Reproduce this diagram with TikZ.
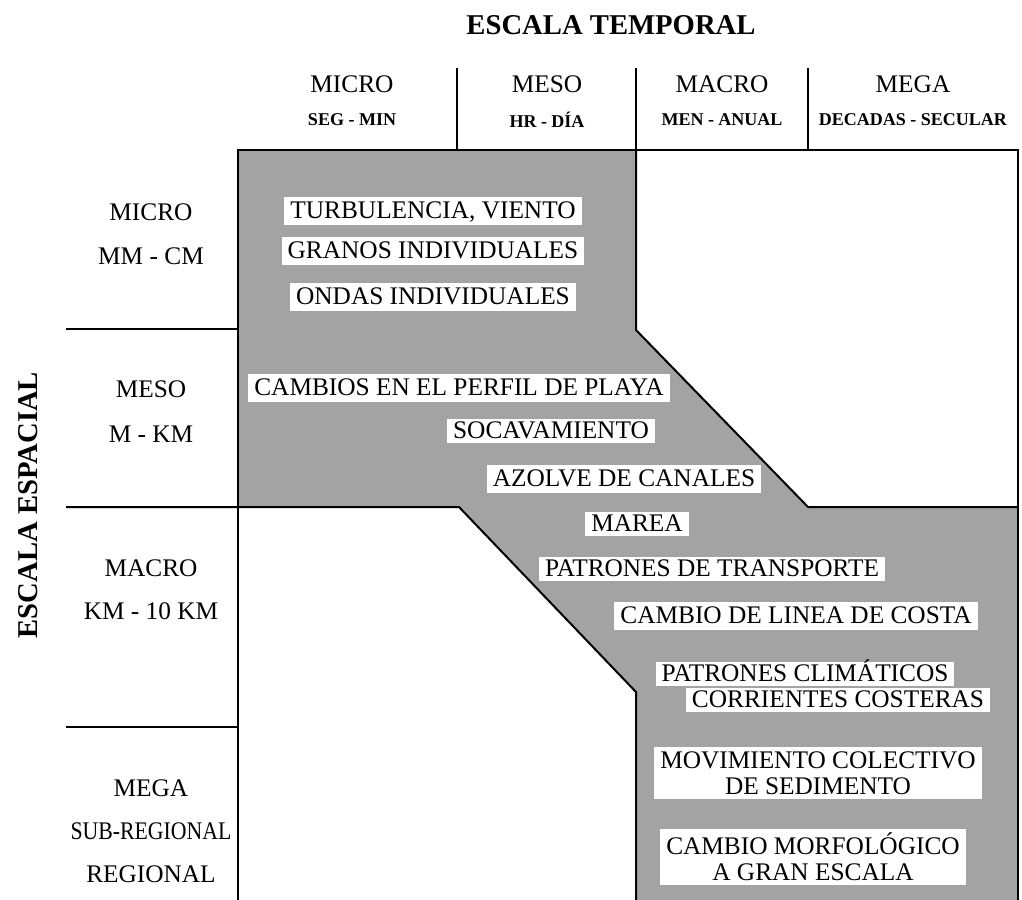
\documentclass[tikz,border=0pt]{standalone}
\usepackage{fontspec}
\setmainfont{Liberation Serif}
\definecolor{bandgray}{gray}{0.64}
\begin{document}
\begin{tikzpicture}[x=0.75pt,y=-0.75pt,
  big/.style={font=\fontsize{19}{22}\selectfont},
  small/.style={font=\bfseries\fontsize{13.5}{16}\selectfont},
  title/.style={font=\bfseries\fontsize{21.5}{24}\selectfont},
  tag/.style={big, fill=white, inner xsep=4.5pt, inner ysep=3.5pt, text height=12.5pt, text depth=1.5pt},
  tagthin/.style={tag, inner ysep=2.2pt},
  tagtwo/.style={font=\fontsize{19}{19.5}\selectfont, fill=white, align=center, inner xsep=4.5pt, inner ysep=3pt},
  frame/.style={line width=1.5pt}]
\useasboundingbox (0,0) rectangle (1022,900);
% shaded band
\fill[bandgray] (238,150) -- (636,150) -- (636,330) -- (808,507) -- (1018,507) -- (1018,900)
  -- (636,900) -- (636,692) -- (459,507) -- (238,507) -- cycle;
% frame lines
\draw[frame] (238,900) -- (238,150) -- (1019,150);
\draw[frame] (1018,150) -- (1018,900);
\draw[frame] (636,150) -- (636,330) -- (808,507) -- (1018,507);
\draw[frame] (66,507) -- (459,507) -- (636,692) -- (636,900);
\draw[frame] (66,329) -- (238,329);
\draw[frame] (66,727) -- (238,727);
\draw[frame] (457,68) -- (457,150);
\draw[frame] (636,68) -- (636,150);
\draw[frame] (808,68) -- (808,150);
% titles
\node[title] (tt) at (611,25) {ESCALA TEMPORAL};
\node[title, rotate=90] (te) at (28,505) {ESCALA ESPACIAL};
% column headers
\node[big] (c1) at (352,84) {MICRO};
\node[small] (c1s) at (352,120) {SEG - MIN};
\node[big] (c2) at (547,84) {MESO};
\node[small] (c2s) at (547,120) {HR - DÍA};
\node[big] (c3) at (722,84) {MACRO};
\node[small] (c3s) at (722,120) {MEN - ANUAL};
\node[big] (c4) at (913,84) {MEGA};
\node[small] (c4s) at (913,120) {DECADAS - SECULAR};
% row headers
\node[big] (r1) at (151,212) {MICRO};
\node[big] (r1s) at (151,256) {MM - CM};
\node[big] (r2) at (151,389) {MESO};
\node[big] (r2s) at (151,434) {M - KM};
\node[big] (r3) at (151,568) {MACRO};
\node[big] (r3s) at (151,611) {KM - 10 KM};
\node[big] (r4) at (151,788) {MEGA};
\node[big] (r4s) at (151,831) {\scalebox{0.86}[1]{SUB-REGIONAL}};
\node[big] (r4t) at (151,874) {REGIONAL};
% processes
\node[tag] (t1) at (433,211) {TURBULENCIA, VIENTO};
\node[tag] (t2) at (433,251) {GRANOS INDIVIDUALES};
\node[tag] (t3) at (433,297) {ONDAS INDIVIDUALES};
\node[tag] (t4) at (459,388) {CAMBIOS EN EL PERFIL DE PLAYA};
\node[tagthin] (t5) at (551,431) {SOCAVAMIENTO};
\node[tag] (t6) at (624,479) {AZOLVE DE CANALES};
\node[tagthin] (t7) at (637,524) {MAREA};
\node[tagthin] (t8) at (712,569) {PATRONES DE TRANSPORTE};
\node[tag] (t9) at (796,616) {CAMBIO DE LINEA DE COSTA};
\node[tagthin] (t10) at (805,674) {PATRONES CLIMÁTICOS};
\node[tagthin] (t11) at (838,700) {CORRIENTES COSTERAS};
\node[tagtwo] (t12) at (818,773) {MOVIMIENTO COLECTIVO\\DE SEDIMENTO};
\node[tagtwo] (t13) at (813,857) {CAMBIO MORFOLÓGICO\\A GRAN ESCALA};
\end{tikzpicture}
\end{document}
